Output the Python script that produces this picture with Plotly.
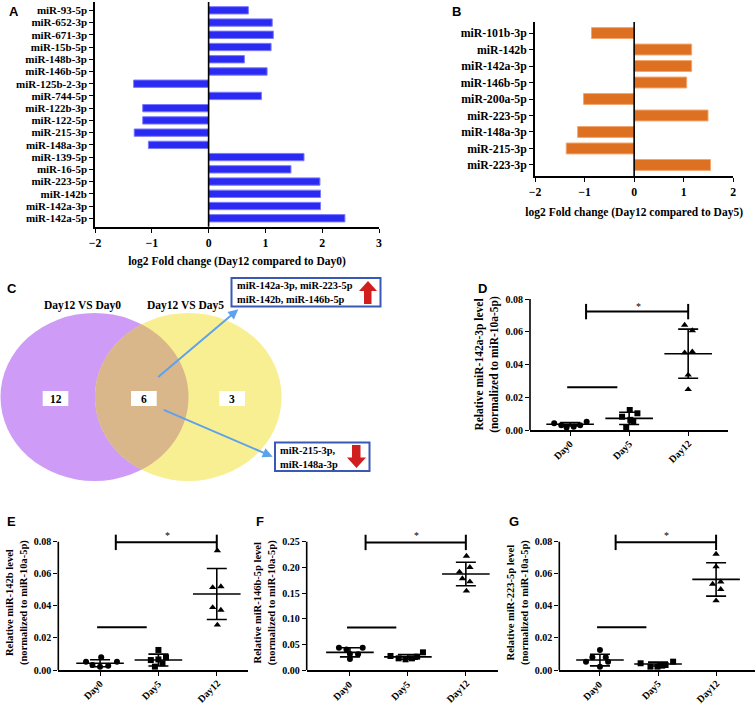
import numpy as np
import plotly.graph_objects as go

W, H = 756, 704

# ---------------- data ----------------
a_labels = ["miR-93-5p", "miR-652-3p", "miR-671-3p", "miR-15b-5p", "miR-148b-3p", "miR-146b-5p",
            "miR-125b-2-3p", "miR-744-5p", "miR-122b-3p", "miR-122-5p", "miR-215-3p", "miR-148a-3p",
            "miR-139-5p", "miR-16-5p", "miR-223-5p", "miR-142b", "miR-142a-3p", "miR-142a-5p"]
a_values = [0.70, 1.12, 1.14, 1.10, 0.63, 1.03, -1.32, 0.93, -1.16, -1.16, -1.31, -1.06,
            1.68, 1.45, 1.96, 1.97, 1.97, 2.40]

b_labels = ["miR-101b-3p", "miR-142b", "miR-142a-3p", "miR-146b-5p", "miR-200a-5p",
            "miR-223-5p", "miR-148a-3p", "miR-215-3p", "miR-223-3p"]
b_values = [-0.86, 1.16, 1.16, 1.06, -1.02, 1.49, -1.14, -1.37, 1.54]

venn_titles = ["Day12 VS Day0", "Day12 VS Day5"]
venn_counts = [12, 6, 3]
up_list = "miR-142a-3p, miR-223-5p<br>miR-142b, miR-146b-5p"
down_list = "miR-215-3p,<br>miR-148a-3p"

days = ["Day0", "Day5", "Day12"]

d_day0 = [0.0041, 0.0029, 0.0016, 0.0020, 0.0029, 0.0051]
d_day5 = [0.0122, 0.0081, 0.0102, 0.0051, 0.0014, 0.0062]
d_day12 = [0.0641, 0.0607, 0.0472, 0.0478, 0.0336, 0.0248]
d_mean = [0.0035, 0.0071, 0.0466]
d_sd = [0.0010, 0.0037, 0.0150]

e_day0 = [0.0052, 0.0031, 0.0079, 0.0021, 0.0027, 0.0052]
e_day5 = [0.0125, 0.0062, 0.0079, 0.0021, 0.0042, 0.0066]
e_day12 = [0.0744, 0.0515, 0.0520, 0.0390, 0.0374, 0.0281]
e_mean = [0.0042, 0.0062, 0.0474]
e_sd = [0.0022, 0.0037, 0.0159]

f_day0 = [0.0435, 0.0400, 0.0435, 0.0310, 0.0305, 0.0214]
f_day5 = [0.0273, 0.0344, 0.0227, 0.0208, 0.0227, 0.0260]
f_day12 = [0.222, 0.191, 0.200, 0.178, 0.172, 0.154]
f_mean = [0.0344, 0.0255, 0.1870]
f_sd = [0.0088, 0.0045, 0.0230]

g_day0 = [0.0125, 0.0079, 0.0079, 0.0052, 0.0052, 0.0021]
g_day5 = [0.0042, 0.0052, 0.0021, 0.0021, 0.0027, 0.0031]
g_day12 = [0.0723, 0.0644, 0.0536, 0.0550, 0.0503, 0.0432]
g_mean = [0.0062, 0.0037, 0.0565]
g_sd = [0.0036, 0.0012, 0.0104]

# ---------------- styling ----------------
SERIF = "Liberation Serif"
SANS = "Liberation Sans"


def F(size):
    return dict(family=SERIF, size=size, color="black", weight="bold")


fnt_bar_a = F(11)
fnt_bar_b = F(11.8)
fnt_title = F(11.5)
fnt_small = F(10)

fig = go.Figure()


def px_dom_x(x0, x1):
    return [x0 / W, x1 / W]


def px_dom_y(top, bottom):
    return [1 - bottom / H, 1 - top / H]


# ---------- Panel A ----------
fig.add_trace(go.Bar(x=a_values, y=a_labels, orientation="h", width=0.6,
                     marker=dict(color="#2A2AF2", line=dict(color="#7B7BFF", width=1)),
                     xaxis="x", yaxis="y", showlegend=False))
# ---------- Panel B ----------
fig.add_trace(go.Bar(x=b_values, y=b_labels, orientation="h", width=0.66,
                     marker=dict(color="#DE7022", line=dict(color="#F2A66E", width=1)),
                     xaxis="x2", yaxis="y2", showlegend=False))

# ---------- Venn (pixel axes) ----------
fig.add_trace(go.Scatter(x=[0, W], y=[0, H], mode="markers", marker=dict(opacity=0),
                         xaxis="x3", yaxis="y3", showlegend=False, hoverinfo="skip"))

# dot plots
panels = [
    dict(ax="4", data=[d_day0, d_day5, d_day12], mean=d_mean, sd=d_sd,
         offs=[[-0.27, -0.15, -0.06, 0.06, 0.17, 0.28], [0.01, -0.12, 0.14, 0.07, -0.05, 0.02],
               [-0.06, 0.07, -0.06, 0.07, 0.0, 0.0]],
         brk=0.0723, star=0.0756, hline=0.0261, axtop=0.08),
    dict(ax="5", data=[e_day0, e_day5, e_day12], mean=e_mean, sd=e_sd,
         offs=[[-0.24, -0.13, 0.02, 0.0, 0.14, 0.29], [0.0, -0.13, 0.13, -0.06, 0.07, 0.0],
               [0.01, -0.07, 0.07, -0.07, 0.07, 0.01]],
         brk=0.0796, star=0.0840, hline=0.0266, axtop=0.08),
    dict(ax="6", data=[f_day0, f_day5, f_day12], mean=f_mean, sd=f_sd,
         offs=[[-0.19, -0.06, 0.22, 0.0, 0.14, 0.0], [-0.30, 0.26, -0.16, -0.04, 0.07, 0.16],
               [0.01, -0.11, 0.07, -0.06, 0.07, 0.01]],
         brk=0.2485, star=0.2620, hline=0.083, axtop=0.25),
    dict(ax="7", data=[g_day0, g_day5, g_day12], mean=g_mean, sd=g_sd,
         offs=[[0.0, -0.13, 0.10, -0.24, 0.14, 0.0], [-0.30, 0.26, -0.13, -0.01, 0.07, 0.13],
               [0.0, 0.0, -0.06, 0.08, 0.08, 0.0]],
         brk=0.0796, star=0.0840, hline=0.0266, axtop=0.08),
]
symbols = ["circle", "square", "triangle-up"]
for p in panels:
    xa, ya = "x" + p["ax"], "y" + p["ax"]
    for i, (vals, offs) in enumerate(zip(p["data"], p["offs"])):
        fig.add_trace(go.Scatter(x=[i + o for o in offs], y=vals, mode="markers",
                                 marker=dict(symbol=symbols[i], color="black", size=6 if i < 2 else 6.5),
                                 xaxis=xa, yaxis=ya, showlegend=False, cliponaxis=False))
    fig.add_trace(go.Scatter(x=[0, 1, 2], y=p["mean"], mode="markers",
                             marker=dict(symbol="line-ew", size=34, color="black",
                                         line=dict(color="black", width=1.6)),
                             error_y=dict(type="data", array=p["sd"], visible=True, color="black",
                                          thickness=1.6, width=10),
                             xaxis=xa, yaxis=ya, showlegend=False, cliponaxis=False))
    fig.add_trace(go.Scatter(x=[0.27, 2.0], y=[p["brk"], p["brk"]], mode="lines+markers",
                             line=dict(color="black", width=2),
                             marker=dict(symbol="line-ns", size=11, color="black",
                                         line=dict(color="black", width=2)),
                             xaxis=xa, yaxis=ya, showlegend=False, cliponaxis=False))
    fig.add_trace(go.Scatter(x=[-0.05, 0.8], y=[p["hline"], p["hline"]], mode="lines",
                             line=dict(color="black", width=2),
                             xaxis=xa, yaxis=ya, showlegend=False, cliponaxis=False))
    fig.add_annotation(x=1.15, y=p["star"], xref=xa, yref=ya, text="*", showarrow=False,
                       font=dict(family=SERIF, size=10, color="black"))
    fig.add_shape(type="line", xref=xa + " domain", yref=ya, x0=0, x1=0, y0=0, y1=p["axtop"],
                  line=dict(color="black", width=1.6))
    for i, d in enumerate(days):
        fig.add_annotation(x=i, y=0, xref=xa, yref=ya, text=d, textangle=-45, showarrow=False,
                           xshift=-7.5 if len(d) < 5 else -8.5, yshift=-20 if len(d) < 5 else -21,
                           font=fnt_small)

# ---------------- layout ----------------
tickcommon = dict(showgrid=False, showline=True, linecolor="black", linewidth=1.6,
                  ticks="outside", ticklen=4, tickwidth=1.4, tickcolor="black",
                  automargin=False)

layout = dict(width=W, height=H, margin=dict(l=0, r=0, t=0, b=0, autoexpand=False),
              paper_bgcolor="white", plot_bgcolor="rgba(0,0,0,0)", showlegend=False)

layout["xaxis"] = dict(domain=px_dom_x(95, 379), range=[-2, 3], dtick=1, anchor="y",
                       zeroline=False, tickfont=fnt_bar_b,
                       title=dict(text="log2 Fold change (Day12 compared to Day0)", font=fnt_title, standoff=8),
                       **tickcommon)
layout["yaxis"] = dict(domain=px_dom_y(2, 226.7), range=[17.69, -0.68], anchor="x",
                       type="category", categoryorder="array", categoryarray=a_labels,
                       tickmode="array", tickvals=a_labels, ticktext=a_labels,
                       tickfont=fnt_bar_a, **tickcommon)

layout["xaxis2"] = dict(domain=px_dom_x(535, 733.3), range=[-2, 2], dtick=1, anchor="y2",
                        zeroline=False, tickfont=fnt_bar_b,
                        title=dict(text="log2 Fold change (Day12 compared to Day5)", font=fnt_title, standoff=10),
                        **tickcommon)
layout["yaxis2"] = dict(domain=px_dom_y(22, 176), range=[8.67, -0.67], anchor="x2",
                        type="category", categoryorder="array", categoryarray=b_labels,
                        tickmode="array", tickvals=b_labels, ticktext=b_labels,
                        tickfont=fnt_bar_b, **tickcommon)

layout["xaxis3"] = dict(domain=[0, 1], range=[0, W], visible=False, anchor="y3", fixedrange=True)
layout["yaxis3"] = dict(domain=[0, 1], range=[H, 0], visible=False, anchor="x3", fixedrange=True)

dot_geo = {
    "4": dict(x=(530, 728.3), y=(299, 430), xr=[-0.68, 2.68], yr=[0, 0.08], dt=0.02, ts=11.5,
              title="Relative miR-142a-3p level<br>(normalized to miR-10a-5p)"),
    "5": dict(x=(58.3, 248.3), y=(535.3, 670), xr=[-0.715, 2.54], yr=[0, 0.084], dt=0.02, ts=10.5,
              title="Relative miR-142b level<br>(normalized to miR-10a-5p)"),
    "6": dict(x=(306.7, 498.3), y=(535.5, 670), xr=[-0.746, 2.56], yr=[0, 0.262], dt=0.05, ts=10.5,
              title="Relative miR-146b-5p level<br>(normalized to miR-10a-5p)"),
    "7": dict(x=(559.3, 755), y=(535.3, 670), xr=[-0.70, 2.67], yr=[0, 0.084], dt=0.02, ts=10.5,
              title="Relative miR-223-5p level<br>(normalized to miR-10a-5p)"),
}
for k, g in dot_geo.items():
    top = 0.08 if g["dt"] == 0.02 else 0.25
    layout["xaxis" + k] = dict(domain=px_dom_x(*g["x"]), range=g["xr"], anchor="y" + k,
                               tickmode="array", tickvals=[0, 1, 2], showticklabels=False,
                               zeroline=False, **tickcommon)
    layout["yaxis" + k] = dict(domain=px_dom_y(*g["y"]), range=g["yr"], anchor="x" + k,
                               tickmode="array", tickvals=list(np.round(np.arange(0, top + 1e-9, g["dt"]), 2)),
                               tickformat=".2f", zeroline=False, tickfont=fnt_small,
                               title=dict(text=g["title"], font=F(g["ts"]), standoff=4),
                               **{**tickcommon, "showline": False})

fig.update_layout(**layout)

for xa, ya in [("x", "y"), ("x2", "y2")]:
    fig.add_shape(type="line", xref=xa, yref=ya + " domain", x0=0, x1=0, y0=0, y1=1,
                  line=dict(color="black", width=1.6))

# ---------------- Venn shapes ----------------
pc = (94.5, 397.0, 94.0, 84.0)   # cx, cy, rx, ry (pixels)
yc = (188.3, 397.0, 93.3, 84.0)


def ell(c, t):
    return c[0] + c[2] * np.cos(t), c[1] + c[3] * np.sin(t)


def inside(c, x, y):
    return ((x - c[0]) / c[2]) ** 2 + ((y - c[1]) / c[3]) ** 2 <= 1.0


for c, col in [(pc, "#CE9CF6"), (yc, "#F8EF93")]:
    fig.add_shape(type="circle", xref="x3", yref="y3", x0=c[0] - c[2], x1=c[0] + c[2],
                  y0=c[1] - c[3], y1=c[1] + c[3], fillcolor=col, line=dict(width=0), layer="below")
t1 = np.linspace(-np.pi / 2, np.pi / 2, 361)
xa_, ya_ = ell(pc, t1)
m = inside(yc, xa_, ya_)
ptsA = list(zip(xa_[m], ya_[m]))
t2 = np.linspace(np.pi / 2, 3 * np.pi / 2, 361)
xb_, yb_ = ell(yc, t2)
m2 = inside(pc, xb_, yb_)
ptsB = list(zip(xb_[m2], yb_[m2]))
pts = ptsA + ptsB
path = "M " + " L ".join(f"{x:.2f},{y:.2f}" for x, y in pts) + " Z"
fig.add_shape(type="path", xref="x3", yref="y3", path=path, fillcolor="#DAB68B",
              line=dict(width=0), layer="below")

for txt, cx in zip(venn_titles, [82.7, 185.0]):
    fig.add_annotation(x=cx, y=305.7, xref="x3", yref="y3", text=txt, showarrow=False, font=fnt_title)

for n, (x0, x1) in zip(venn_counts, [(42.7, 68.3), (131.0, 156.7), (219.3, 245.0)]):
    fig.add_shape(type="rect", xref="x3", yref="y3", x0=x0, x1=x1, y0=391, y1=406,
                  fillcolor="white", line=dict(width=0))
    fig.add_annotation(x=(x0 + x1) / 2, y=398.5, xref="x3", yref="y3", text=str(n),
                       showarrow=False, font=fnt_title)

for (hx, hy, tx, ty) in [(238.3, 309.3, 156.7, 378.3), (272.7, 456.7, 162.3, 409.3)]:
    fig.add_annotation(x=hx, y=hy, ax=tx, ay=ty, xref="x3", yref="y3", axref="x3", ayref="y3",
                       text="", showarrow=True, arrowhead=2, arrowsize=1, arrowwidth=2,
                       arrowcolor="#5DA2EA")

fig.add_shape(type="rect", xref="x3", yref="y3", x0=231.5, x1=380.5, y0=278, y1=306.5,
              fillcolor="white", line=dict(color="#3A58B5", width=2))
fig.add_annotation(x=234.5, y=292.5, xref="x3", yref="y3", text=up_list, showarrow=False,
                   xanchor="left", align="left", font=F(10.4))
fig.add_shape(type="path", xref="x3", yref="y3",
              path="M 368,281 L 377,291 L 371.5,291 L 371.5,304 L 364,304 L 364,291 L 359,291 Z",
              fillcolor="#D11E1E", line=dict(width=0))

fig.add_shape(type="rect", xref="x3", yref="y3", x0=275, x1=369.5, y0=442.5, y1=471,
              fillcolor="white", line=dict(color="#3A58B5", width=2))
fig.add_annotation(x=278, y=457, xref="x3", yref="y3", text=down_list, showarrow=False,
                   xanchor="left", align="left", font=F(10.4))
fig.add_shape(type="path", xref="x3", yref="y3",
              path="M 356.5,468 L 366,457.5 L 360.5,457.5 L 360.5,445 L 352,445 L 352,457.5 L 347,457.5 Z",
              fillcolor="#D11E1E", line=dict(width=0))

for L, x, y in [("A", 7, 2), ("B", 450, 2), ("C", 5, 279), ("D", 476, 279),
                ("E", 5, 512), ("F", 254, 512), ("G", 507, 512)]:
    fig.add_annotation(x=x / W, y=1 - y / H, xref="paper", yref="paper", text=L, showarrow=False,
                       xanchor="left", yanchor="top",
                       font=dict(family=SANS, size=13, color="black", weight="bold"))

fig.write_html("out.html", config={"displayModeBar": False},
               post_script="document.body.style.margin='0';document.body.style.padding='0';"
                           "document.body.style.overflow='hidden';")
